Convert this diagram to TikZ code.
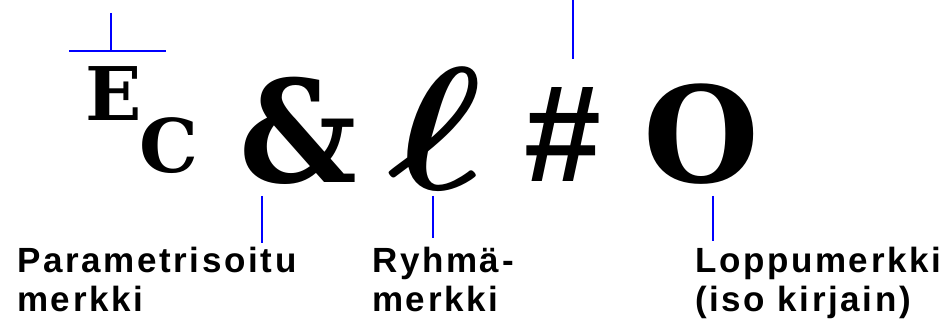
\documentclass[tikz,border=0pt]{standalone}
\usepackage{fontspec}
\usepackage{graphicx}
\newfontfamily\glyphserif{DejaVu Serif}
\newfontfamily\glyphsans{Liberation Sans}
\newfontfamily\labelfont{Liberation Sans}[LetterSpace=7.5]
\begin{document}
\begin{tikzpicture}[x=1pt,y=-1pt,
  lead/.style={draw=blue,line width=2pt},
  bigglyph/.style={inner sep=0pt,anchor=base,text=black},
  caption/.style={inner sep=0pt,anchor=base west,align=left,font=\labelfont\bfseries\fontsize{35}{38.5}\selectfont}]
\useasboundingbox (0,0) rectangle (948,320);
% glyphs
\node[bigglyph,font=\glyphserif\bfseries\fontsize{74}{80}\selectfont] (E) at (114,121) {E};
\node[bigglyph,font=\glyphserif\bfseries\fontsize{74}{80}\selectfont] (C) at (169,173) {C};
\node[bigglyph,font=\glyphserif\bfseries\fontsize{142}{150}\selectfont,xscale=0.92] (amp) at (298,183) {\&};
\node[bigglyph] (ell) at (436,190) {\scalebox{20}[17.5]{\boldmath$\ell$}};
\node[bigglyph,font=\glyphsans\bfseries\fontsize{138}{150}\selectfont] (hash) at (563,182) {\#};
\node[bigglyph,font=\glyphserif\bfseries\fontsize{133}{150}\selectfont] (O) at (701.5,183) {O};
% labels (base anchor = last line)
\node[caption] (lp) at (17,311.5) {Parametrisoitu\\merkki};
\node[caption] (lr) at (372,311.5) {Ryhmä-\\merkki};
\node[caption] (ll) at (695,311.5) {Loppumerkki\\(iso kirjain)};
% leader lines
\coordinate (t1) at (111,13);
\coordinate (t2) at (111,51);
\coordinate (h1) at (69,51);
\coordinate (h2) at (166,51);
\coordinate (s1) at (573,0);
\coordinate (s2) at (573,59);
\coordinate (a1) at (262,196);
\coordinate (a2) at (262,243);
\coordinate (r1) at (433,196);
\coordinate (r2) at (433,238);
\coordinate (o1) at (713,196);
\coordinate (o2) at (713,241);
\draw[lead] (t1) -- (t2);
\draw[lead] (h1) -- (h2);
\draw[lead] (s1) -- (s2);
\draw[lead] (a1) -- (a2);
\draw[lead] (r1) -- (r2);
\draw[lead] (o1) -- (o2);
\end{tikzpicture}
\end{document}
